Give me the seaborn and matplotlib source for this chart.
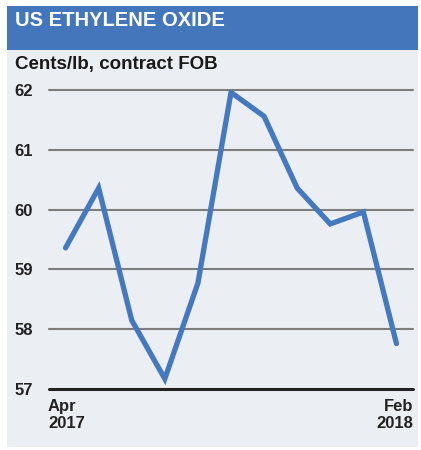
import matplotlib
matplotlib.use("Agg")
import matplotlib.pyplot as plt
import numpy as np
import pandas as pd
import seaborn as sns
from matplotlib.patches import Rectangle

# monthly contract price, Apr 2017 - Feb 2018
months = ["Apr 2017", "May 2017", "Jun 2017", "Jul 2017", "Aug 2017", "Sep 2017",
          "Oct 2017", "Nov 2017", "Dec 2017", "Jan 2018", "Feb 2018"]
prices = [59.36, 60.36, 58.15, 57.17, 58.77, 61.96, 61.56, 60.36, 59.76, 59.96, 57.76]
y_ticks = [57, 58, 59, 60, 61, 62]
first_label = "Apr\n2017"
last_label = "Feb\n2018"
title = "US ETHYLENE OXIDE"
subtitle = "Cents/lb, contract FOB"

df = pd.DataFrame({"month": months, "price": prices, "idx": range(len(months))})

sns.set_style("white")
plt.rcParams["font.family"] = ["Liberation Sans", "DejaVu Sans"]

W, H = 421, 450
fig = plt.figure(figsize=(W / 100, H / 100), dpi=100)
fig.patch.set_facecolor("white")

# background panels (behind the axes)
bg = "#EBEEF2"
blue = "#4376BA"
fig.patches.append(Rectangle((7 / W, 3 / H), 411 / W, (H - 50 - 3) / H, transform=fig.transFigure,
                             facecolor=bg, edgecolor="none", zorder=-5))
fig.patches.append(Rectangle((7 / W, (H - 50) / H), 411 / W, 44 / H, transform=fig.transFigure,
                             facecolor=blue, edgecolor="none", zorder=-5))

fig.text(15 / W, (H - 21) / H, title, color="white", fontsize=14.5, fontweight="bold",
         va="center", ha="left")
fig.text(15 / W, (H - 65) / H, subtitle, color="#1a1a1a", fontsize=13.5, fontweight="bold",
         va="center", ha="left")

ax = fig.add_axes([49 / W, (H - 389) / H, (413 - 49) / W, (389 - 90) / H])
ax.set_facecolor("none")

sns.lineplot(data=df, x="idx", y="price", ax=ax, color="#4479C0", linewidth=3.8,
             solid_capstyle="round", solid_joinstyle="miter", zorder=3)

ax.set_xlim(-0.5, 10.5)
ax.set_ylim(57, 62)
ax.set_yticks(y_ticks)
ax.set_yticklabels([str(t) for t in y_ticks], fontsize=12, fontweight="bold", color="#222222")
for t in y_ticks:
    if t == 57:
        ax.axhline(t, color="#222222", linewidth=2.2, zorder=1, clip_on=False)
    else:
        ax.axhline(t, color="#7d7d7d", linewidth=1.5, zorder=1, clip_on=False)
ax.tick_params(axis="y", length=0, pad=11.5)
ax.set_xticks([])
ax.set_xlabel("")
ax.set_ylabel("")
for s in ax.spines.values():
    s.set_visible(False)

ax.text(-0.003, -0.035, first_label, transform=ax.transAxes, ha="left", va="top",
        fontsize=12, fontweight="bold", color="#222222", linespacing=1.1)
ax.text(1, -0.035, last_label, transform=ax.transAxes, ha="right", va="top",
        fontsize=12, fontweight="bold", color="#222222", linespacing=1.1)

fig.savefig("out.png", dpi=100)
